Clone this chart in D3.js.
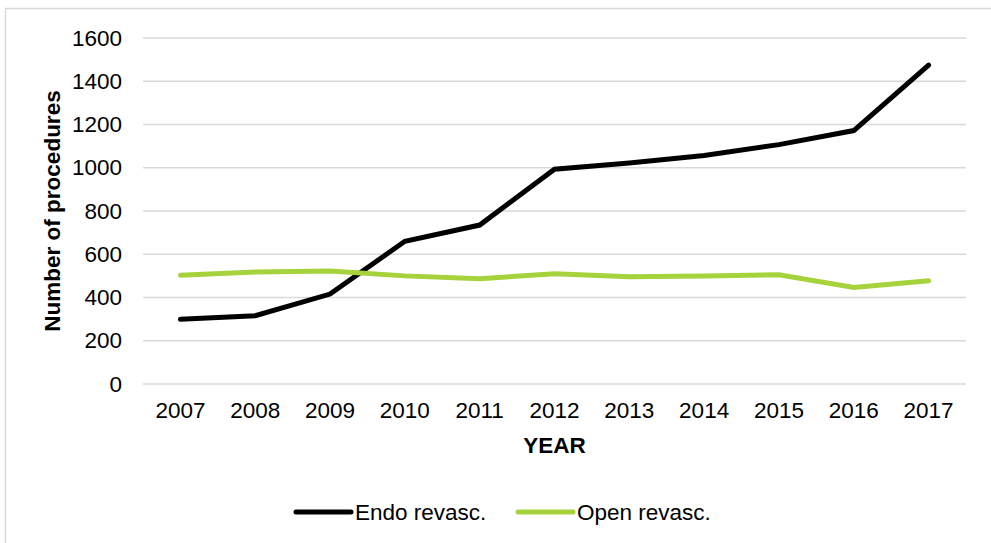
<!DOCTYPE html>
<meta charset="utf-8">
<style>
body { margin: 0; background: #fff; }
svg text { font-family: "Liberation Sans", Arial, sans-serif; fill: #000; }
.grid line { stroke: #d9d9d9; stroke-width: 1.5px; }
</style>
<svg width="991" height="543"></svg>
<script src="https://d3js.org/d3.v7.min.js"></script>
<script>

// data
var years = ["2007", "2008", "2009", "2010", "2011", "2012", "2013", "2014", "2015", "2016", "2017"];
var endoRevasc = [299, 316, 416, 660, 735, 993, 1022, 1057, 1107, 1172, 1475];
var openRevasc = [503, 518, 523, 500, 487, 510, 496, 499, 505, 446, 477];
var yTicks = [0, 200, 400, 600, 800, 1000, 1200, 1400, 1600];

var series = [
  { name: "Endo revasc.", values: endoRevasc, color: "#000000" },
  { name: "Open revasc.", values: openRevasc, color: "#a6d23c" }
];

var svg = d3.select("svg");
var fontSize = "22.5px";

// chart frame (only left and top visible)
svg.append("rect")
  .attr("x", 5.5).attr("y", 8.5)
  .attr("width", 1100).attr("height", 600)
  .attr("fill", "none")
  .attr("stroke", "#d9d9d9")
  .attr("stroke-width", 1.5);

var plotLeft = 143, plotRight = 966, plotTop = 38, plotBottom = 384;

var x = d3.scaleBand().domain(years).range([plotLeft, plotRight]);
var y = d3.scaleLinear().domain([0, 1600]).range([plotBottom, plotTop]);

// gridlines
svg.append("g").attr("class", "grid")
  .selectAll("line")
  .data(yTicks)
  .enter().append("line")
  .attr("x1", plotLeft).attr("x2", plotRight)
  .attr("y1", function(d) { return y(d); })
  .attr("y2", function(d) { return y(d); });

// y axis labels
var yAxis = d3.axisLeft(y).tickValues(yTicks).tickFormat(d3.format("d")).tickSize(0).tickPadding(0);
svg.append("g")
  .attr("transform", "translate(122,0)")
  .call(yAxis)
  .call(function(g) { g.select(".domain").remove(); })
  .selectAll("text")
  .style("font-size", fontSize)
  .style("font-family", "Liberation Sans, Arial, sans-serif")
  .attr("fill", "#000");

// x axis labels
var xAxis = d3.axisBottom(x).tickSize(0).tickPadding(0);
svg.append("g")
  .attr("transform", "translate(0,402)")
  .call(xAxis)
  .call(function(g) { g.select(".domain").remove(); })
  .selectAll("text")
  .attr("dy", "0.72em")
  .style("font-size", fontSize)
  .style("font-family", "Liberation Sans, Arial, sans-serif")
  .attr("fill", "#000");

// lines
var line = d3.line()
  .x(function(d, i) { return x(years[i]) + x.bandwidth() / 2; })
  .y(function(d) { return y(d); });

svg.append("g")
  .selectAll("path")
  .data(series)
  .enter().append("path")
  .attr("d", function(d) { return line(d.values); })
  .attr("fill", "none")
  .attr("stroke", function(d) { return d.color; })
  .attr("stroke-width", 5)
  .attr("stroke-linecap", "round");

// axis titles
svg.append("text")
  .attr("x", (plotLeft + plotRight) / 2)
  .attr("y", 453)
  .attr("text-anchor", "middle")
  .style("font-size", fontSize)
  .style("font-weight", "bold")
  .text("YEAR");

svg.append("text")
  .attr("transform", "translate(60," + ((plotTop + plotBottom) / 2) + ") rotate(-90)")
  .attr("text-anchor", "middle")
  .style("font-size", fontSize)
  .style("font-weight", "bold")
  .text("Number of procedures");

// legend
var legendX = [296, 518];
var lg = svg.append("g").selectAll("g")
  .data(series)
  .enter().append("g")
  .attr("transform", function(d, i) { return "translate(" + legendX[i] + ",512)"; });

lg.append("line")
  .attr("x1", 0).attr("x2", 55)
  .attr("stroke", function(d) { return d.color; })
  .attr("stroke-width", 5)
  .attr("stroke-linecap", "round");

lg.append("text")
  .attr("x", 59)
  .attr("y", 8)
  .style("font-size", fontSize)
  .text(function(d) { return d.name; });

</script>
